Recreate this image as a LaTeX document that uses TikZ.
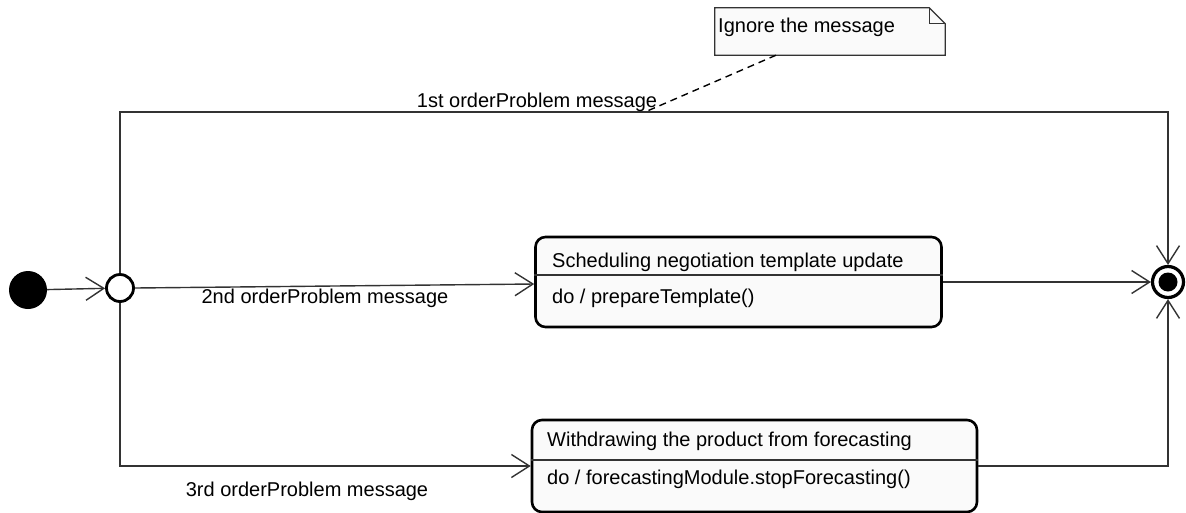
\documentclass[tikz,border=0pt]{standalone}
\usepackage{fontspec}
\setmainfont{Liberation Sans}
\usetikzlibrary{arrows.meta}

\definecolor{linec}{HTML}{333333}
\definecolor{boxfill}{HTML}{FAFAFA}

\tikzset{
  conn/.style={draw=linec, line width=1.4pt,
    -{Straight Barb[length=18pt,width=23pt,line width=1.4pt]}},
  statebox/.style={draw=black, line width=2.6pt, fill=boxfill,
    rounded corners=10pt, inner sep=0pt},
  lbl/.style={font=\fontsize{20}{23}\selectfont, inner sep=0pt},
  divider/.style={draw=linec, line width=1.2pt},
}

\begin{document}
\begin{tikzpicture}[x=1pt, y=-1pt]
\useasboundingbox (0,0) rectangle (1186,512);

% pseudo states
\node[circle, fill=black, minimum size=38pt, inner sep=0pt] (init) at (28,290) {};
\node[circle, draw=black, line width=2.8pt, fill=white, minimum size=27pt, inner sep=0pt] (junc) at (120,288) {};
\node[circle, draw=black, line width=3.2pt, fill=white, minimum size=31pt, inner sep=0pt] (fin) at (1168,282) {};
\node[circle, fill=black, minimum size=19pt, inner sep=0pt] at (fin.center) {};

% states
\node[statebox, minimum width=406pt, minimum height=90pt] (s1) at (738.5,282) {};
\draw[divider] (s1.west |- 0,275) -- (s1.east |- 0,275);
\node[lbl, anchor=west] at (552,262) {Scheduling negotiation template update};
\node[lbl, anchor=west] at (552,298) {do / prepareTemplate()};

\node[statebox, minimum width=445pt, minimum height=92pt] (s2) at (754.5,466) {};
\draw[divider] (s2.west |- 0,460) -- (s2.east |- 0,460);
\node[lbl, anchor=west] at (547,441) {Withdrawing the product from forecasting};
\node[lbl, anchor=west] at (547,479) {do / forecastingModule.stopForecasting()};

% transitions
\draw[conn] (init) -- (junc);
\draw[conn] (junc.north) -- (junc.north |- 0,112) -| (fin.north);
\draw[conn] (junc.east) -- (s1.west |- 0,284);
\draw[conn] (junc.south) |- (s2.west |- 0,466);
\draw[conn] (s1.east) -- (fin.west);
\draw[conn] (s2.east |- 0,466) -| (fin.south);

% transition labels
\node[lbl] (l1) at (537,102) {1st orderProblem message};
\node[lbl] at (325,298) {2nd orderProblem message};
\node[lbl] at (307,491) {3rd orderProblem message};

% note
\node[minimum width=230pt, minimum height=47pt, inner sep=0pt] (note) at (830,31.5) {};
\draw[draw=linec, line width=1.2pt, fill=boxfill]
  (note.north west) -- ([xshift=-16pt]note.north east) -- ([yshift=-16pt]note.north east)
  -- (note.south east) -- (note.south west) -- cycle;
\draw[draw=linec, line width=1.2pt]
  ([xshift=-16pt]note.north east) -- ([xshift=-16pt,yshift=-16pt]note.north east)
  -- ([yshift=-16pt]note.north east);
\node[lbl, anchor=west] at (718,27) {Ignore the message};
\coordinate (anchorpt) at (645,112);
\draw[draw=black, line width=1.4pt, dash pattern=on 7pt off 5pt] (note.south -| 776,0) -- (anchorpt);
\end{tikzpicture}
\end{document}
